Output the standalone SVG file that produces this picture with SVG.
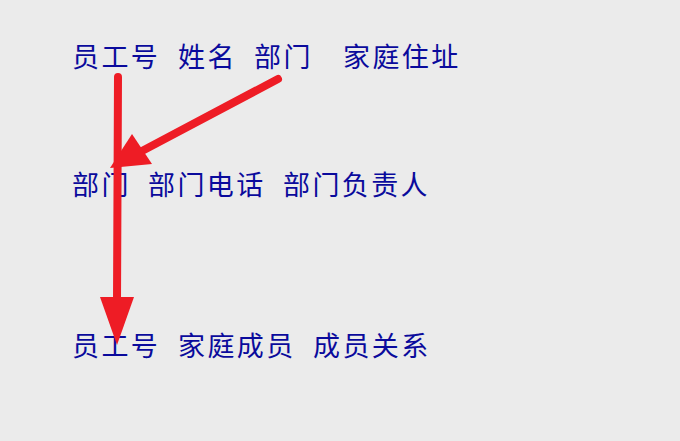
<svg xmlns="http://www.w3.org/2000/svg" width="680" height="441" viewBox="0 0 680 441">
<style>
text{font-family:"Noto Sans CJK SC","Noto Sans CJK JP",sans-serif;font-size:27px;fill:#0a0a9c;letter-spacing:2.4px}
.ln{stroke:#ee1c25;stroke-width:8;stroke-linecap:round;fill:none}
.hd{fill:#ee1c25}
</style>
<rect width="680" height="441" fill="#ebebeb"/>
<g id="row1">
<text x="72" y="67">员工号</text>
<text x="178" y="67">姓名</text>
<text x="254" y="67">部门</text>
<text x="343" y="67">家庭住址</text>
</g>
<g id="row2">
<text x="72" y="195">部门</text>
<text x="148" y="195">部门电话</text>
<text x="283" y="195">部门负责人</text>
</g>
<g id="row3">
<text x="72" y="356">员工号</text>
<text x="178" y="356">家庭成员</text>
<text x="313" y="356">成员关系</text>
</g>
<g id="connectors">
<path class="ln" d="M118,77 L117,302"/>
<polygon class="hd" points="117,345 100,297 134,297"/>
<path class="ln" d="M278,79 L142,151"/>
<polygon class="hd" points="110,168 132,134 152,164"/>
</g>
</svg>
